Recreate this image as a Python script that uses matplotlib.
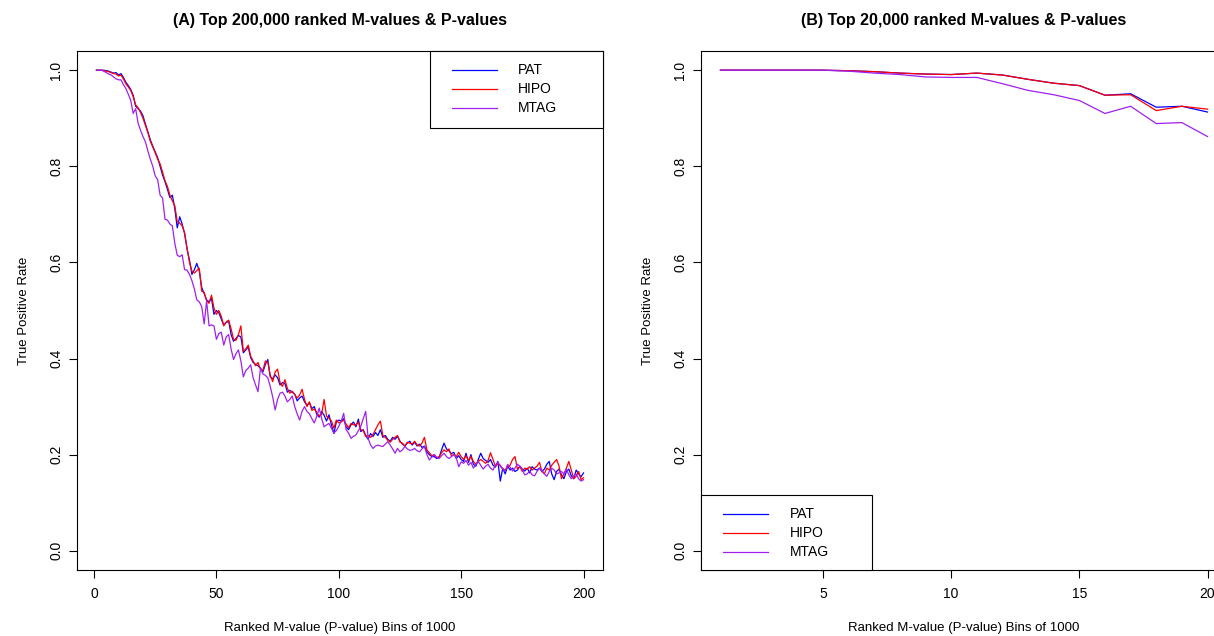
import matplotlib
matplotlib.use('Agg')
import matplotlib.pyplot as plt
import numpy as np

plt.rcParams['font.family'] = ['Liberation Sans', 'DejaVu Sans']

# panel A: 200 bins of 1000
bins_a = np.arange(1, 201)
pat_a = [
    1.000, 1.000, 1.000, 1.000, 0.999, 0.998, 0.996, 0.994, 0.995, 0.990,
    0.993, 0.985, 0.975, 0.968, 0.960, 0.948, 0.925, 0.920, 0.915, 0.905,
    0.888, 0.872, 0.855, 0.842, 0.830, 0.818, 0.800, 0.782, 0.768, 0.752,
    0.735, 0.740, 0.712, 0.672, 0.695, 0.680, 0.660, 0.628, 0.605, 0.575,
    0.585, 0.598, 0.582, 0.548, 0.535, 0.522, 0.518, 0.525, 0.492, 0.500,
    0.495, 0.482, 0.470, 0.475, 0.478, 0.450, 0.436, 0.442, 0.448, 0.445,
    0.412, 0.418, 0.424, 0.402, 0.392, 0.388, 0.385, 0.380, 0.372, 0.388,
    0.398, 0.362, 0.358, 0.366, 0.360, 0.345, 0.350, 0.348, 0.330, 0.334,
    0.330, 0.326, 0.312, 0.318, 0.322, 0.310, 0.303, 0.308, 0.296, 0.300,
    0.284, 0.278, 0.290, 0.282, 0.270, 0.283, 0.262, 0.244, 0.268, 0.272,
    0.270, 0.275, 0.258, 0.252, 0.262, 0.268, 0.258, 0.274, 0.248, 0.252,
    0.240, 0.232, 0.244, 0.238, 0.246, 0.240, 0.252, 0.236, 0.240, 0.232,
    0.228, 0.236, 0.232, 0.238, 0.228, 0.222, 0.218, 0.224, 0.228, 0.220,
    0.226, 0.218, 0.222, 0.215, 0.218, 0.206, 0.200, 0.196, 0.196, 0.192,
    0.194, 0.210, 0.224, 0.212, 0.208, 0.202, 0.205, 0.192, 0.198, 0.190,
    0.186, 0.203, 0.184, 0.200, 0.180, 0.176, 0.190, 0.203, 0.192, 0.188,
    0.184, 0.190, 0.178, 0.174, 0.186, 0.145, 0.172, 0.160, 0.176, 0.168,
    0.172, 0.165, 0.168, 0.176, 0.170, 0.166, 0.172, 0.162, 0.175, 0.170,
    0.168, 0.172, 0.165, 0.170, 0.180, 0.186, 0.160, 0.148, 0.165, 0.170,
    0.158, 0.150, 0.165, 0.170, 0.156, 0.150, 0.168, 0.160, 0.154, 0.162,
]
hipo_a = [
    1.000, 1.000, 1.000, 0.999, 0.998, 0.997, 0.995, 0.993, 0.992, 0.988,
    0.990, 0.982, 0.972, 0.965, 0.958, 0.945, 0.928, 0.922, 0.912, 0.900,
    0.885, 0.870, 0.852, 0.840, 0.828, 0.815, 0.805, 0.788, 0.770, 0.758,
    0.740, 0.728, 0.718, 0.685, 0.682, 0.676, 0.662, 0.630, 0.600, 0.582,
    0.578, 0.583, 0.588, 0.540, 0.538, 0.520, 0.515, 0.532, 0.505, 0.492,
    0.500, 0.488, 0.468, 0.476, 0.480, 0.462, 0.440, 0.438, 0.450, 0.468,
    0.415, 0.420, 0.428, 0.405, 0.395, 0.385, 0.392, 0.378, 0.375, 0.395,
    0.392, 0.365, 0.352, 0.372, 0.378, 0.350, 0.342, 0.356, 0.338, 0.328,
    0.332, 0.325, 0.318, 0.324, 0.336, 0.315, 0.300, 0.310, 0.292, 0.295,
    0.288, 0.280, 0.284, 0.315, 0.280, 0.276, 0.270, 0.255, 0.272, 0.266,
    0.268, 0.272, 0.264, 0.256, 0.265, 0.262, 0.262, 0.268, 0.252, 0.250,
    0.238, 0.240, 0.236, 0.242, 0.252, 0.262, 0.270, 0.240, 0.236, 0.230,
    0.226, 0.232, 0.236, 0.240, 0.226, 0.224, 0.218, 0.226, 0.224, 0.222,
    0.228, 0.220, 0.218, 0.224, 0.236, 0.210, 0.204, 0.198, 0.200, 0.194,
    0.196, 0.204, 0.210, 0.206, 0.212, 0.198, 0.200, 0.196, 0.205, 0.196,
    0.190, 0.198, 0.188, 0.196, 0.186, 0.180, 0.186, 0.190, 0.186, 0.182,
    0.188, 0.204, 0.190, 0.176, 0.182, 0.178, 0.170, 0.168, 0.174, 0.178,
    0.190, 0.196, 0.170, 0.175, 0.165, 0.172, 0.170, 0.175, 0.168, 0.172,
    0.176, 0.184, 0.165, 0.160, 0.172, 0.168, 0.178, 0.184, 0.190, 0.176,
    0.150, 0.160, 0.172, 0.186, 0.168, 0.150, 0.155, 0.165, 0.148, 0.152,
]
mtag_a = [
    1.000, 1.000, 1.000, 0.998, 0.995, 0.992, 0.990, 0.986, 0.982, 0.980,
    0.980, 0.970, 0.962, 0.950, 0.937, 0.910, 0.920, 0.890, 0.875, 0.862,
    0.851, 0.832, 0.815, 0.800, 0.780, 0.772, 0.740, 0.734, 0.690, 0.688,
    0.680, 0.676, 0.640, 0.615, 0.612, 0.616, 0.585, 0.584, 0.575, 0.562,
    0.545, 0.522, 0.518, 0.508, 0.472, 0.520, 0.468, 0.470, 0.468, 0.440,
    0.452, 0.455, 0.428, 0.445, 0.450, 0.420, 0.398, 0.410, 0.418, 0.395,
    0.362, 0.375, 0.380, 0.387, 0.360, 0.345, 0.331, 0.380, 0.368, 0.365,
    0.360, 0.342, 0.320, 0.293, 0.315, 0.328, 0.330, 0.322, 0.310, 0.315,
    0.322, 0.300, 0.285, 0.272, 0.290, 0.300, 0.290, 0.285, 0.275, 0.266,
    0.280, 0.297, 0.275, 0.258, 0.262, 0.265, 0.255, 0.245, 0.250, 0.259,
    0.270, 0.286, 0.252, 0.245, 0.234, 0.238, 0.241, 0.250, 0.259, 0.275,
    0.290, 0.234, 0.220, 0.213, 0.218, 0.220, 0.218, 0.217, 0.222, 0.227,
    0.220, 0.212, 0.203, 0.213, 0.206, 0.210, 0.217, 0.212, 0.209, 0.210,
    0.213, 0.208, 0.206, 0.212, 0.217, 0.200, 0.189, 0.195, 0.200, 0.194,
    0.192, 0.198, 0.203, 0.196, 0.192, 0.196, 0.200, 0.194, 0.175, 0.185,
    0.182, 0.188, 0.178, 0.184, 0.172, 0.180, 0.186, 0.178, 0.170, 0.176,
    0.180, 0.172, 0.168, 0.178, 0.184, 0.176, 0.170, 0.166, 0.180, 0.174,
    0.166, 0.172, 0.180, 0.176, 0.168, 0.158, 0.160, 0.166, 0.158, 0.156,
    0.165, 0.172, 0.168, 0.160, 0.155, 0.165, 0.172, 0.168, 0.160, 0.162,
    0.165, 0.160, 0.170, 0.158, 0.150, 0.155, 0.160, 0.150, 0.145, 0.148,
]

# panel B: first 20 bins
bins_b = np.arange(1, 21)
pat_b = [1.000, 1.000, 1.000, 1.000, 1.000, 0.999, 0.997, 0.994, 0.992, 0.991,
         0.994, 0.990, 0.981, 0.973, 0.968, 0.948, 0.951, 0.923, 0.925, 0.913]
hipo_b = [1.000, 1.000, 1.000, 1.000, 1.000, 0.999, 0.997, 0.994, 0.992, 0.991,
          0.994, 0.990, 0.981, 0.973, 0.968, 0.948, 0.949, 0.916, 0.925, 0.919]
mtag_b = [1.000, 1.000, 1.000, 1.000, 1.000, 0.998, 0.994, 0.991, 0.986, 0.985,
          0.985, 0.972, 0.958, 0.949, 0.937, 0.910, 0.925, 0.889, 0.891, 0.862]

labels = ['PAT', 'HIPO', 'MTAG']
colors = ['blue', 'red', '#A020F0']


def draw_legend(ax, box, rows_y, line_x, text_x):
    # R style legend box, positions in axes fraction
    ax.add_patch(plt.Rectangle((box[0], box[1]), box[2], box[3], transform=ax.transAxes,
                               facecolor='white', edgecolor='black', lw=0.8, clip_on=False, zorder=5))
    for y, lab, c in zip(rows_y, labels, colors):
        ax.plot(line_x, [y, y], color=c, lw=0.9, transform=ax.transAxes, clip_on=False, zorder=6)
        ax.text(text_x, y, lab, transform=ax.transAxes, fontsize=10, va='center', ha='left', zorder=6)


def style_axes(ax, title):
    ax.set_ylim(-0.04, 1.04)
    ax.set_yticks([0.0, 0.2, 0.4, 0.6, 0.8, 1.0])
    ax.set_yticklabels(['0.0', '0.2', '0.4', '0.6', '0.8', '1.0'], rotation=90, va='center')
    ax.tick_params(direction='out', length=6, width=0.8, labelsize=10)
    ax.tick_params(axis='x', pad=6)
    ax.tick_params(axis='y', pad=4)
    for s in ax.spines.values():
        s.set_linewidth(0.8)
    ax.set_xlabel('Ranked M-value (P-value) Bins of 1000', fontsize=9.5, labelpad=15)
    ax.set_ylabel('True Positive Rate', fontsize=9.5, labelpad=14)
    ax.set_title(title, fontsize=11.5, fontweight='bold', pad=19)


fig = plt.figure(figsize=(12.14, 6.36), dpi=100)
ax1 = fig.add_axes([77 / 1214, 66 / 636, 526 / 1214, 519 / 636])
ax2 = fig.add_axes([701 / 1214, 66 / 636, 526 / 1214, 519 / 636])

for vals, c in zip([pat_a, hipo_a, mtag_a], colors):
    ax1.plot(bins_a, vals, color=c, lw=0.9)
ax1.set_xlim(-6.96, 207.96)
ax1.set_xticks([0, 50, 100, 150, 200])
style_axes(ax1, '(A) Top 200,000 ranked M-values & P-values')
draw_legend(ax1, (0.671, 0.8516, 0.329, 0.1484), [0.963, 0.926, 0.890], [0.713, 0.798], 0.838)

for vals, c in zip([pat_b, hipo_b, mtag_b], colors):
    ax2.plot(bins_b, vals, color=c, lw=0.9)
ax2.set_xlim(0.24, 20.76)
ax2.set_xticks([5, 10, 15, 20])
style_axes(ax2, '(B) Top 20,000 ranked M-values & P-values')
draw_legend(ax2, (0.0, 0.0, 0.325, 0.1445), [0.108, 0.0719, 0.0353], [0.0424, 0.1268], 0.169)

plt.savefig('out.png', dpi=100)
plt.close()
